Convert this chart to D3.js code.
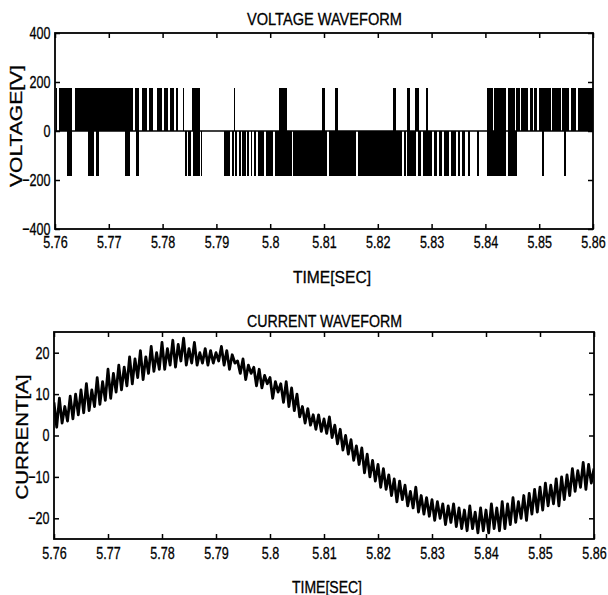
<!DOCTYPE html>
<html>
<head>
<meta charset="utf-8">
<script src="https://cdn.jsdelivr.net/npm/d3@7/dist/d3.min.js"></script>
<style>
  body { margin: 0; background: #fff; }
  svg text { font-family: "Liberation Sans", Arial, sans-serif; fill: #000; stroke: #000; stroke-width: 0.3px; }
</style>
</head>
<body>
<div id="chart"></div>
<script>
// time axis (shared by both panels)
const timeTicks = [5.76, 5.77, 5.78, 5.79, 5.80, 5.81, 5.82, 5.83, 5.84, 5.85, 5.86];
const timeTickLabels = ['5.76', '5.77', '5.78', '5.79', '5.8', '5.81', '5.82', '5.83', '5.84', '5.85', '5.86'];

// voltage panel
const voltTicks = [-400, -200, 0, 200, 400];
const voltHigh = 176;
const voltLow = -182;
// [start, end] of each +Vdc pulse
const posPulses = [
  [5.76019, 5.76037], [5.76074, 5.76316], [5.76372, 5.77450], [5.77487, 5.77561],
  [5.77617, 5.77710], [5.77738, 5.77822], [5.77896, 5.77989], [5.78017, 5.78100],
  [5.78138, 5.78212], [5.78249, 5.78286], [5.78370, 5.78407], [5.78546, 5.78695],
  [5.79336, 5.79355], [5.80164, 5.80312], [5.80963, 5.81019], [5.81204, 5.81260],
  [5.82283, 5.82338], [5.82543, 5.82599], [5.82691, 5.82766], [5.82896, 5.82933],
  [5.84030, 5.84150], [5.84169, 5.84392], [5.84411, 5.84559], [5.84578, 5.84652],
  [5.84671, 5.84727], [5.84745, 5.84801], [5.84820, 5.84894], [5.84912, 5.84968],
  [5.84987, 5.85043], [5.85061, 5.85136], [5.85154, 5.85228], [5.85247, 5.85303],
  [5.85321, 5.85414], [5.85433, 5.85563], [5.85582, 5.85693], [5.85712, 5.85805],
  [5.85823, 5.86000]
];
// [start, end] of each -Vdc pulse
const negPulses = [
  [5.76223, 5.76316], [5.76613, 5.76725], [5.76762, 5.76827], [5.77301, 5.77403],
  [5.77506, 5.77561], [5.78416, 5.78454], [5.78472, 5.78528], [5.78556, 5.78686],
  [5.78714, 5.78732], [5.79141, 5.79262], [5.79281, 5.79336], [5.79355, 5.79392],
  [5.79411, 5.79466], [5.79485, 5.79559], [5.79578, 5.79615], [5.79634, 5.79671],
  [5.79690, 5.79745], [5.79764, 5.79783], [5.79801, 5.79894], [5.79913, 5.80006],
  [5.80024, 5.80061], [5.80080, 5.80136], [5.80154, 5.80229], [5.80247, 5.80414],
  [5.80433, 5.81065], [5.81084, 5.81604], [5.81623, 5.81846], [5.81864, 5.82459],
  [5.82478, 5.82533], [5.82552, 5.82719], [5.82738, 5.82812], [5.82831, 5.82887],
  [5.82905, 5.83007], [5.83045, 5.83100], [5.83138, 5.83193], [5.83230, 5.83323],
  [5.83361, 5.83454], [5.83491, 5.83528], [5.83565, 5.83621], [5.83677, 5.83714],
  [5.83844, 5.83881], [5.84030, 5.84392], [5.84420, 5.84587], [5.85052, 5.85080],
  [5.85470, 5.85498]
];

// current panel
const currentTicks = [-20, -10, 0, 10, 20];
const currentStart = 5.76;
const currentStep = 0.0005;
const currentValues = [
  8, 2, 9, 3, 7, 3.5, 9.5, 4, 10, 5,
  11, 5.5, 12.5, 6, 11, 7, 14, 7.5, 13, 8.5,
  16, 9, 15, 10.5, 17, 11, 16.5, 12, 19, 12.5,
  18.5, 14, 20.5, 13.5, 19, 15, 21.5, 15.5, 20, 16,
  22.5, 16, 21, 17, 23, 16.5, 22, 18, 23.5, 17,
  21, 17.5, 22.5, 17, 20, 17.5, 21, 17, 20.5, 17.5,
  20, 18, 21.5, 17, 20.5, 16, 19.5, 17.5, 18, 15,
  18.5, 13.5, 17, 15, 16.5, 12, 16, 11.5, 14.5, 12.5,
  14, 9, 13, 10.5, 12.5, 8, 13, 7, 11.5, 6,
  10, 4.5, 7, 3, 6.5, 2.5, 5, 1.5, 5, 1,
  4, 0.5, 4.5, -0.5, 2.5, -2, 1.5, -3.5, 0, -4.5,
  -1, -6, -2.5, -7, -3, -9, -4.5, -10, -6, -11,
  -7, -12.5, -8, -13, -9.5, -14.5, -10.5, -16, -11, -15.5,
  -12, -17, -13.5, -17.5, -12.5, -18.5, -14.5, -19, -15, -19.5,
  -15.5, -20.5, -16, -20, -16.5, -21.5, -17, -21, -16.5, -22,
  -17.5, -22.5, -18, -23, -17, -22.5, -18.5, -23.5, -17.5, -23,
  -18, -23.5, -16.5, -22.5, -17.5, -23, -16, -22.5, -16.5, -21.5,
  -15, -21, -16, -20, -14.5, -20.5, -14, -19, -13, -18.5,
  -12.5, -18, -11.5, -17, -12, -16.5, -10.5, -17, -10, -15.5,
  -9.5, -14.5, -8, -13.5, -8.5, -12.5, -6.5, -13, -7, -11.5,
  -8
];

const width = 608, height = 595;
const squeeze = 0.74; // scanned MATLAB font is narrow

const svg = d3.select('#chart').append('svg')
  .attr('width', width)
  .attr('height', height);

function drawPanel(opts) {
  const x = d3.scaleLinear().domain([5.76, 5.86]).range([opts.left, opts.right]);
  const y = d3.scaleLinear().domain(opts.yDomain).range([opts.bottom, opts.top]);
  const g = svg.append('g');

  const clipId = opts.id + '-clip';
  svg.append('clipPath').attr('id', clipId)
    .append('rect')
    .attr('x', opts.left).attr('y', opts.top)
    .attr('width', opts.right - opts.left).attr('height', opts.bottom - opts.top);
  const plot = g.append('g').attr('clip-path', `url(#${clipId})`);

  // axes, MATLAB style ticks pointing inward on all four sides
  const fmt = (d, i) => timeTickLabels[i];
  g.append('g')
    .attr('transform', `translate(0,${opts.bottom})`)
    .call(d3.axisBottom(x).tickValues(timeTicks).tickFormat(fmt).tickSizeInner(-5).tickSizeOuter(0).tickPadding(opts.xPad))
    .call(a => a.selectAll('text').style('font-size', '17px').attr('transform', `scale(${squeeze},1)`));
  g.append('g')
    .attr('transform', `translate(0,${opts.top})`)
    .call(d3.axisTop(x).tickValues(timeTicks).tickFormat('').tickSizeInner(-5).tickSizeOuter(0));
  g.append('g')
    .attr('transform', `translate(${opts.left},0)`)
    .call(d3.axisLeft(y).tickValues(opts.yTicks).tickSizeInner(-5).tickSizeOuter(0).tickPadding(6))
    .call(a => a.selectAll('text').style('font-size', '17px').attr('transform', `scale(${squeeze},1)`));
  g.append('g')
    .attr('transform', `translate(${opts.right},0)`)
    .call(d3.axisRight(y).tickValues(opts.yTicks).tickFormat('').tickSizeInner(-5).tickSizeOuter(0));
  g.selectAll('.domain').remove();
  g.selectAll('.tick line').attr('stroke', '#000').attr('stroke-width', 1.5);

  g.append('rect')
    .attr('x', opts.left).attr('y', opts.top)
    .attr('width', opts.right - opts.left).attr('height', opts.bottom - opts.top)
    .attr('fill', 'none').attr('stroke', '#000').attr('stroke-width', 1.8);

  // titles
  g.append('text')
    .attr('x', 324.5 - 155 / 2)
    .attr('y', opts.titleY)
    .attr('textLength', 155)
    .attr('lengthAdjust', 'spacingAndGlyphs')
    .style('font-size', '16px')
    .text(opts.title);
  g.append('text')
    .attr('x', opts.timeX - opts.timeW / 2)
    .attr('y', opts.bottom + 54)
    .attr('textLength', opts.timeW)
    .attr('lengthAdjust', 'spacingAndGlyphs')
    .style('font-size', '16px')
    .text('TIME[SEC]');
  g.append('text')
    .attr('transform', `translate(${opts.yLabelX},${opts.yLabelY + opts.yLabelW / 2}) rotate(-90)`)
    .attr('textLength', opts.yLabelW)
    .attr('lengthAdjust', 'spacingAndGlyphs')
    .style('font-size', '16px')
    .text(opts.yLabel);

  return { x, y, plot };
}

// VOLTAGE WAVEFORM
const vp = drawPanel({
  id: 'volt', left: 55, right: 593, top: 33, bottom: 229,
  yDomain: [-400, 400], yTicks: voltTicks, xPad: 7,
  title: 'VOLTAGE WAVEFORM', titleY: 25,
  timeX: 332, timeW: 78,
  yLabel: 'VOLTAGE[V]', yLabelX: 22, yLabelY: 126, yLabelW: 122
});

vp.plot.append('line')
  .attr('x1', vp.x(5.76)).attr('x2', vp.x(5.86))
  .attr('y1', vp.y(0)).attr('y2', vp.y(0))
  .attr('stroke', '#000').attr('stroke-width', 1.5);

vp.plot.selectAll('.pos')
  .data(posPulses)
  .enter()
  .append('rect')
  .attr('class', 'pos')
  .attr('x', d => vp.x(d[0]))
  .attr('y', vp.y(voltHigh))
  .attr('width', d => Math.max(1, vp.x(d[1]) - vp.x(d[0])))
  .attr('height', vp.y(0) - vp.y(voltHigh))
  .attr('shape-rendering', 'crispEdges')
  .attr('fill', '#000');

vp.plot.selectAll('.neg')
  .data(negPulses)
  .enter()
  .append('rect')
  .attr('class', 'neg')
  .attr('x', d => vp.x(d[0]))
  .attr('y', vp.y(0))
  .attr('width', d => Math.max(1, vp.x(d[1]) - vp.x(d[0])))
  .attr('height', vp.y(voltLow) - vp.y(0))
  .attr('shape-rendering', 'crispEdges')
  .attr('fill', '#000');

// CURRENT WAVEFORM
const cp = drawPanel({
  id: 'cur', left: 54, right: 594, top: 332, bottom: 539,
  yDomain: [-25, 25], yTicks: currentTicks, xPad: 8,
  title: 'CURRENT WAVEFORM', titleY: 327,
  timeX: 327, timeW: 70,
  yLabel: 'CURRENT[A]', yLabelX: 28, yLabelY: 437, yLabelW: 125
});

const line = d3.line()
  .x((d, i) => cp.x(currentStart + i * currentStep))
  .y(d => cp.y(d));

cp.plot.append('path')
  .datum(currentValues)
  .attr('d', line)
  .attr('fill', 'none')
  .attr('stroke', '#000')
  .attr('stroke-width', 2.8)
  .attr('stroke-linejoin', 'round');
</script>
</body>
</html>
